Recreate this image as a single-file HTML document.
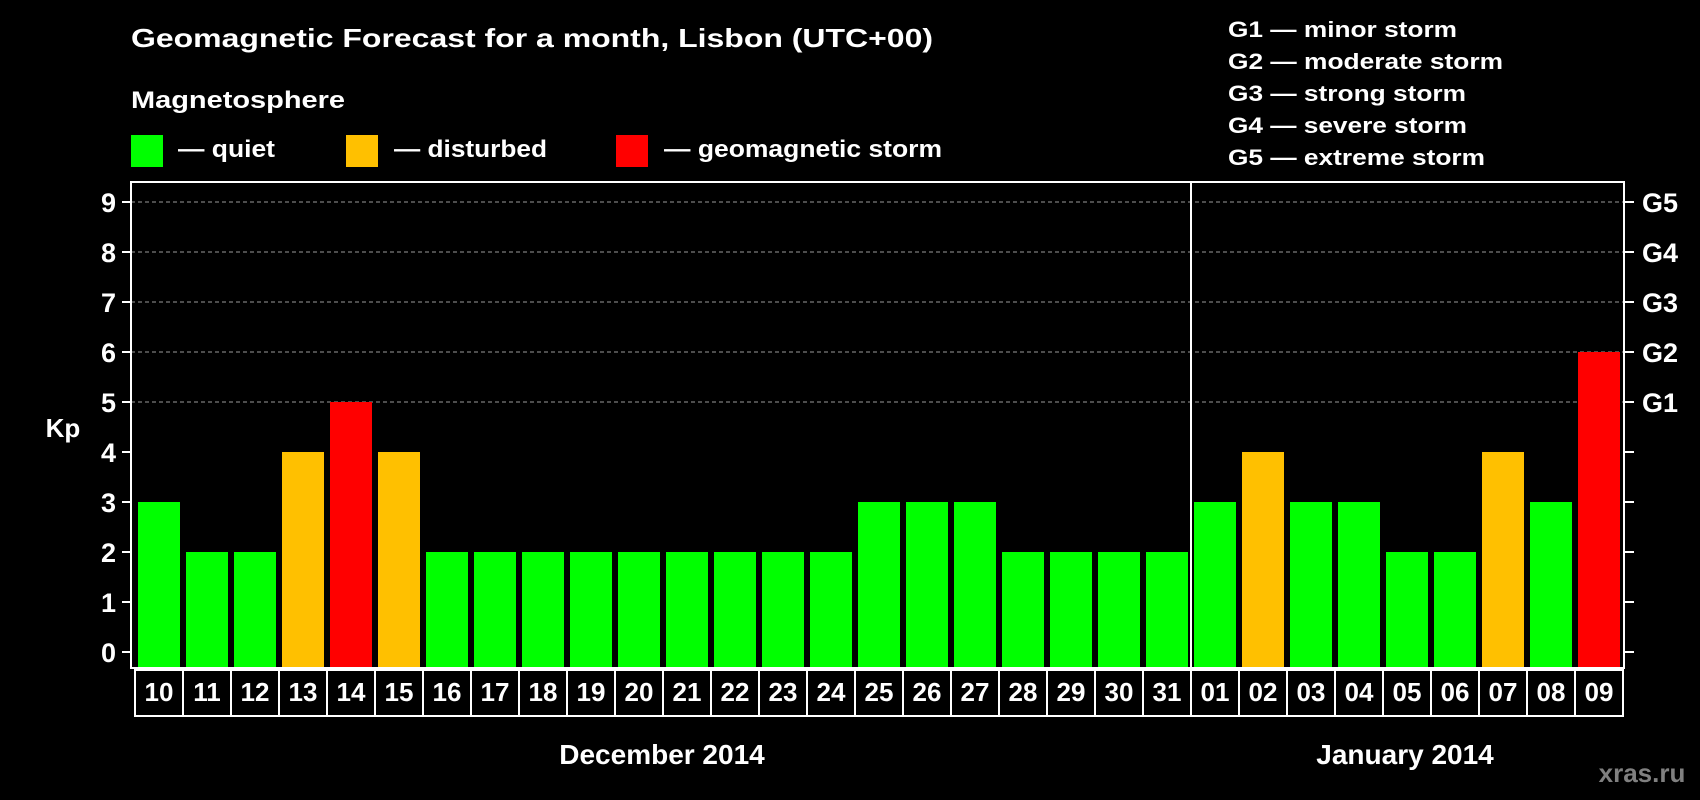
<!DOCTYPE html>
<html><head><meta charset="utf-8"><style>
html,body{margin:0;padding:0;background:#000;}
svg{display:block;font-family:"Liberation Sans",Arial,sans-serif;font-weight:bold;}
</style></head><body>
<svg id="chart" width="1700" height="800" viewBox="0 0 1700 800" xmlns="http://www.w3.org/2000/svg">
<rect x="0" y="0" width="1700" height="800" fill="#000"/>
<text x="131" y="47" fill="#fff" font-size="26" textLength="802" lengthAdjust="spacingAndGlyphs">Geomagnetic Forecast for a month, Lisbon (UTC+00)</text>
<text x="131" y="108" fill="#fff" font-size="24" textLength="214" lengthAdjust="spacingAndGlyphs">Magnetosphere</text>
<g>
<rect x="131" y="135" width="32" height="32" fill="#00ff00"/>
<text x="178" y="157" fill="#fff" font-size="24" textLength="97" lengthAdjust="spacingAndGlyphs">— quiet</text></g>
<g>
<rect x="346" y="135" width="32" height="32" fill="#ffc000"/>
<text x="394" y="157" fill="#fff" font-size="24" textLength="153" lengthAdjust="spacingAndGlyphs">— disturbed</text></g>
<g>
<rect x="616" y="135" width="32" height="32" fill="#ff0000"/>
<text x="664" y="157" fill="#fff" font-size="24" textLength="278" lengthAdjust="spacingAndGlyphs">— geomagnetic storm</text></g>
<g>
<text x="1228" y="37" fill="#fff" font-size="22" textLength="229" lengthAdjust="spacingAndGlyphs">G1 — minor storm</text>
<text x="1228" y="69" fill="#fff" font-size="22" textLength="275" lengthAdjust="spacingAndGlyphs">G2 — moderate storm</text>
<text x="1228" y="101" fill="#fff" font-size="22" textLength="238" lengthAdjust="spacingAndGlyphs">G3 — strong storm</text>
<text x="1228" y="133" fill="#fff" font-size="22" textLength="239" lengthAdjust="spacingAndGlyphs">G4 — severe storm</text>
<text x="1228" y="165" fill="#fff" font-size="22" textLength="257" lengthAdjust="spacingAndGlyphs">G5 — extreme storm</text>
</g>
<text x="63" y="437" fill="#fff" font-size="26" text-anchor="middle">Kp</text>
<g id="plot"></g>
<text x="662" y="764" fill="#fff" font-size="28" text-anchor="middle">December 2014</text>
<text x="1405" y="764" fill="#fff" font-size="28" text-anchor="middle">January 2014</text>
<text x="1642" y="782" fill="#808080" font-size="26" text-anchor="middle">xras.ru</text>
</svg>
<script>
const days = ["10","11","12","13","14","15","16","17","18","19","20","21","22","23","24","25","26","27","28","29","30","31","01","02","03","04","05","06","07","08","09"];
const kpValues = [3,2,2,4,5,4,2,2,2,2,2,2,2,2,2,3,3,3,2,2,2,2,3,4,3,3,2,2,4,3,6];
const yTicks = [0,1,2,3,4,5,6,7,8,9];
const gLevels = [5,6,7,8,9];
const gLabels = ["G1","G2","G3","G4","G5"];
const monthBreakIndex = 22;

(function(){
const NS = "http://www.w3.org/2000/svg";
const plot = document.getElementById("plot");
const pLeft = 131, pRight = 1624, pTop = 182, pBottom = 668;
const x0 = 138, pitch = 48, bw = 42;
function xPos(i){ return x0 + i*pitch; }
function yPos(v){ return 652 - 50*v; }
function mk(tag, attrs){ const e = document.createElementNS(NS, tag); for (const k in attrs) e.setAttribute(k, attrs[k]); plot.appendChild(e); return e; }
function color(v){ return v >= 5 ? "#ff0000" : (v >= 4 ? "#ffc000" : "#00ff00"); }

gLevels.forEach((v) => {
  const l = mk("line", {x1:pLeft, x2:pRight, y1:yPos(v), y2:yPos(v), stroke:"#9a9a9a", "stroke-width":1, "stroke-dasharray":"4,3"});
  
  
});
yTicks.forEach((v) => {
  const t1 = mk("line", {x1:pLeft-9, x2:pLeft, y1:yPos(v), y2:yPos(v), stroke:"#fff", "stroke-width":2});
  
  
  const t2 = mk("line", {x1:pRight, x2:pRight+10, y1:yPos(v), y2:yPos(v), stroke:"#fff", "stroke-width":2});
  
  
  const tx = mk("text", {x:116, y:yPos(v)+10, fill:"#fff", "font-size":27, "text-anchor":"end"});
  tx.textContent = v;
  
  
});
gLevels.forEach((v, i) => {
  const tx = mk("text", {x:1642, y:yPos(v)+10, fill:"#fff", "font-size":27});
  tx.textContent = gLabels[i];
  
  
});
kpValues.forEach((v, i) => {
  const r = mk("rect", {x:xPos(i), y:yPos(v), width:bw, height:667-yPos(v), fill:color(v)});
  
  
});
const frame = mk("rect", {x:pLeft, y:pTop, width:pRight-pLeft, height:pBottom-pTop, fill:"none", stroke:"#fff", "stroke-width":2});


days.forEach((d, i) => {
  const b = mk("rect", {x:xPos(i)-3, y:670, width:pitch, height:46, fill:"none", stroke:"#fff", "stroke-width":2});
  
  
  const t = mk("text", {x:xPos(i)+bw/2, y:701, fill:"#fff", "font-size":26, "text-anchor":"middle"});
  t.textContent = d;
  
  
});
const sepX = xPos(monthBreakIndex) - 3;
const sep = mk("line", {x1:sepX, x2:sepX, y1:pTop, y2:716, stroke:"#fff", "stroke-width":2});


})();
</script>
</body></html>
